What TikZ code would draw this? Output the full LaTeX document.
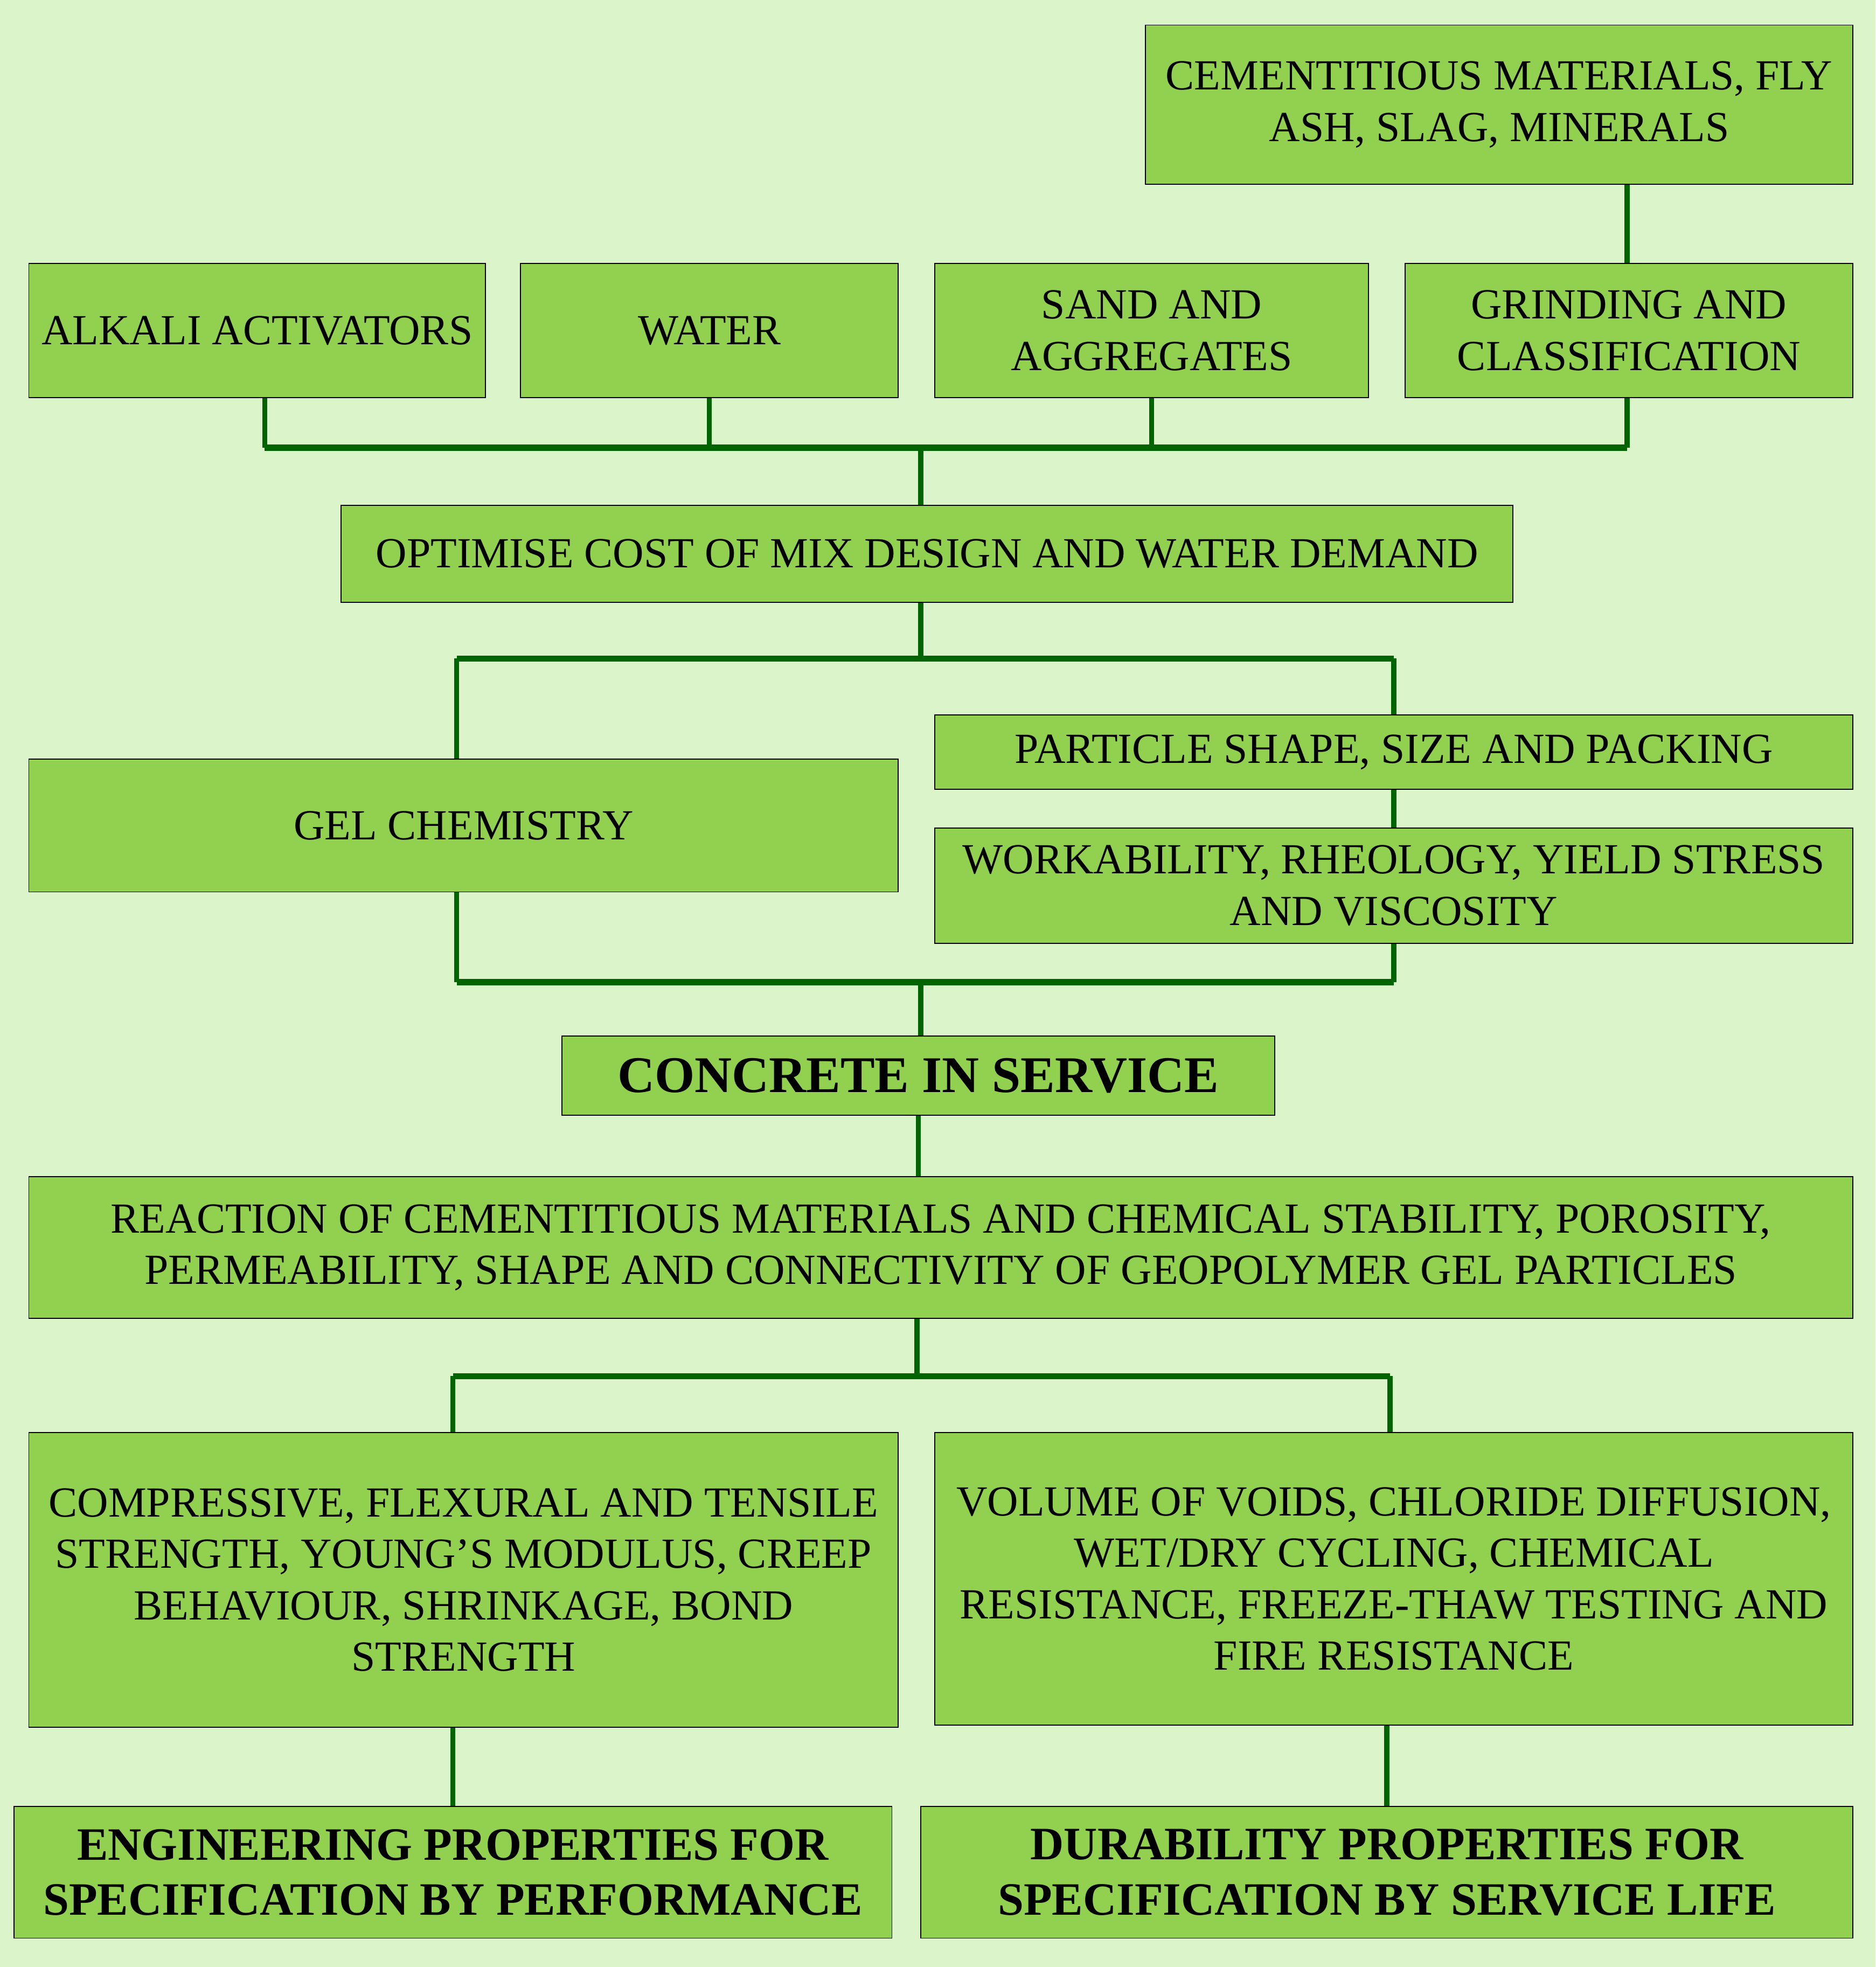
\documentclass[tikz,border=0pt]{standalone}
\usepackage{fontspec}
\setmainfont{Liberation Serif}
\definecolor{bggreen}{RGB}{220,244,201}
\definecolor{boxgreen}{RGB}{146,208,80}
\definecolor{linkgreen}{RGB}{0,100,0}

\begin{document}
\begin{tikzpicture}[x=0.5pt,y=-0.5pt,
  box/.style={draw=black,line width=0.4pt,fill=boxgreen,align=center,inner sep=2pt,font=\fontsize{17.1}{20.5}\selectfont},
  head/.style={box,font=\fontsize{18.5}{22}\selectfont\bfseries},
  link/.style={draw=linkgreen,line width=2pt},
  bus/.style={draw=linkgreen,line width=2.5pt}]
\fill[bggreen] (0,0) rectangle (1495,1568);
\useasboundingbox (0,0) rectangle (1495,1568);

\node [box,minimum width=282pt,minimum height=63.5pt] (cem) at (1195,83.5) {CEMENTITIOUS MATERIALS, FLY\\ASH, SLAG, MINERALS};
\node [box,minimum width=182pt,minimum height=53.5pt] (alkali) at (205,263.5) {ALKALI ACTIVATORS};
\node [box,minimum width=150.5pt,minimum height=53.5pt] (water) at (565.5,263.5) {WATER};
\node [box,minimum width=173pt,minimum height=53.5pt] (sand) at (918,263.5) {SAND AND\\AGGREGATES};
\node [box,minimum width=178.5pt,minimum height=53.5pt] (grind) at (1298.5,263.5) {GRINDING AND\\CLASSIFICATION};
\node [box,minimum width=467pt,minimum height=38.5pt] (optim) at (739,441.5) {OPTIMISE COST OF MIX DESIGN AND WATER DEMAND};
\node [box,minimum width=346.5pt,minimum height=53pt] (gel) at (369.5,658) {GEL CHEMISTRY};
\node [box,minimum width=366pt,minimum height=29.5pt] (particle) at (1111,599.5) {PARTICLE SHAPE, SIZE AND PACKING};
\node [box,minimum width=366pt,minimum height=46pt] (work) at (1111,706) {WORKABILITY, RHEOLOGY, YIELD STRESS\\AND VISCOSITY};
\node [box,minimum width=284pt,minimum height=31.5pt,font=\fontsize{20.5}{24}\selectfont\bfseries] (concrete) at (732,857.5) {CONCRETE IN SERVICE};
\node [box,minimum width=727pt,minimum height=56.5pt] (reaction) at (750,994.5) {REACTION OF CEMENTITIOUS MATERIALS AND CHEMICAL STABILITY, POROSITY,\\PERMEABILITY, SHAPE AND CONNECTIVITY OF GEOPOLYMER GEL PARTICLES};
\node [box,minimum width=346.5pt,minimum height=117.5pt] (compress) at (369.5,1259.5) {COMPRESSIVE, FLEXURAL AND TENSILE\\STRENGTH, YOUNG’S MODULUS, CREEP\\BEHAVIOUR, SHRINKAGE, BOND\\STRENGTH};
\node [box,minimum width=366pt,minimum height=116.5pt] (volume) at (1111,1258.5) {VOLUME OF VOIDS, CHLORIDE DIFFUSION,\\WET/DRY CYCLING, CHEMICAL\\RESISTANCE, FREEZE-THAW TESTING AND\\FIRE RESISTANCE};
\node [head,minimum width=350pt,minimum height=52.5pt] (engin) at (361,1492.5) {ENGINEERING PROPERTIES FOR\\SPECIFICATION BY PERFORMANCE};
\node [head,minimum width=371.5pt,minimum height=52.5pt] (durab) at (1105.5,1492.5) {DURABILITY PROPERTIES FOR\\SPECIFICATION BY SERVICE LIFE};

\coordinate (b1) at (734,357);
\coordinate (b1l) at (211,357);
\coordinate (b1r) at (1297,357);
\coordinate (b2) at (734,525);
\coordinate (b2l) at (364,525);
\coordinate (b2r) at (1111,525);
\coordinate (b3) at (734,783);
\coordinate (b3l) at (364,783);
\coordinate (b3r) at (1111,783);
\coordinate (b4) at (731,1097);
\coordinate (b4l) at (361,1097);
\coordinate (b4r) at (1108,1097);

\draw[link] (b1r |- cem.south) -- (b1r |- grind.north);
\draw[link] (b1l |- alkali.south) -- (b1l);
\draw[link] (water.south) -- (water.south |- b1);
\draw[link] (sand.south) -- (sand.south |- b1);
\draw[link] (b1r |- grind.south) -- (b1r);
\draw[bus] (b1l) -- (b1r);
\draw[link] (b1) -- (b1 |- optim.north);

\draw[link] (b2 |- optim.south) -- (b2);
\draw[bus] (b2l) -- (b2r);
\draw[link] (b2l) -- (b2l |- gel.north);
\draw[link] (b2r) -- (particle.north);
\draw[link] (particle.south) -- (work.north);

\draw[link] (b3l |- gel.south) -- (b3l);
\draw[link] (work.south) -- (b3r);
\draw[bus] (b3l) -- (b3r);
\draw[link] (b3) -- (b3 |- concrete.north);

\draw[link] (concrete.south) -- (concrete.south |- reaction.north);
\draw[link] (b4 |- reaction.south) -- (b4);
\draw[bus] (b4l) -- (b4r);
\draw[link] (b4l) -- (b4l |- compress.north);
\draw[link] (b4r) -- (b4r |- volume.north);

\draw[link] (engin.north |- compress.south) -- (engin.north);
\draw[link] (durab.north |- volume.south) -- (durab.north);
\end{tikzpicture}
\end{document}
